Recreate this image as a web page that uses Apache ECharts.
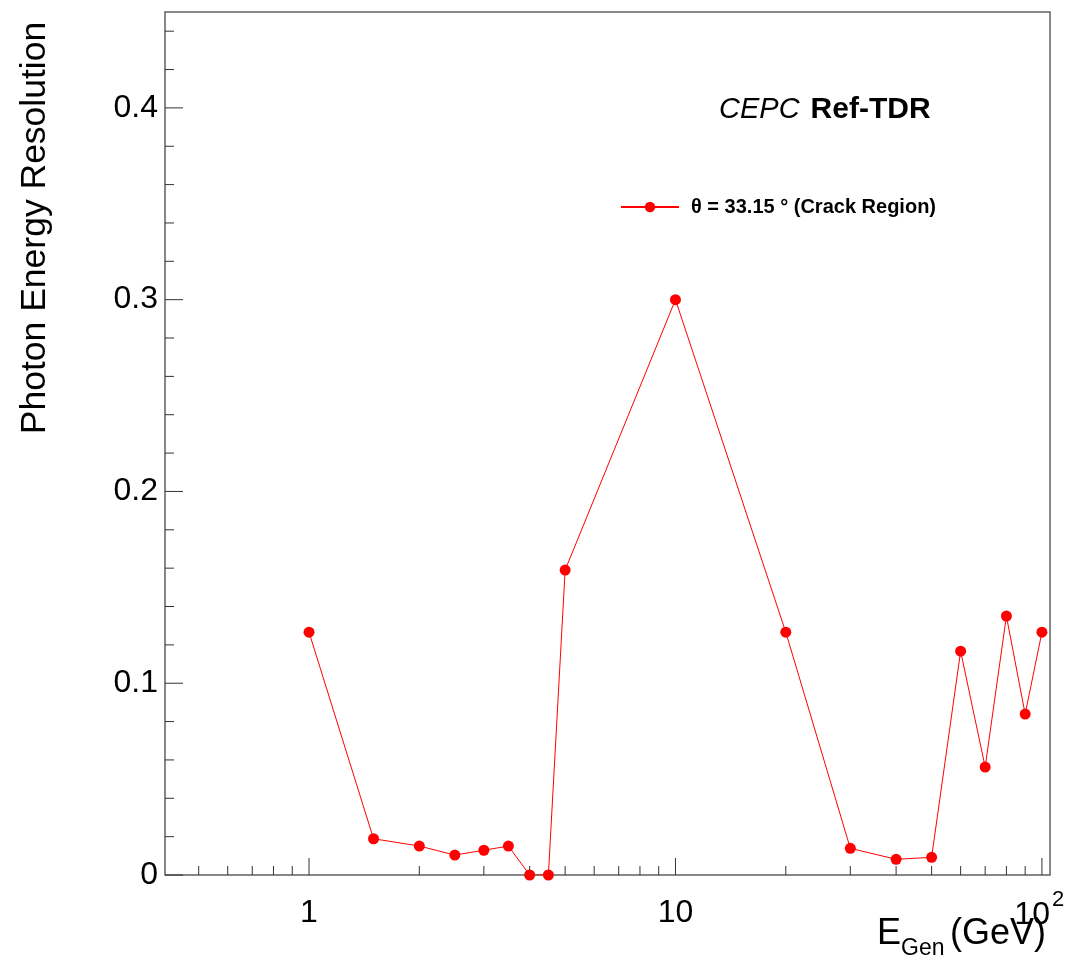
<!DOCTYPE html>
<html><head><meta charset="utf-8">
<script src="https://cdn.jsdelivr.net/npm/echarts@6/dist/echarts.min.js"></script>
<style>html,body{margin:0;padding:0;background:#fff}#chart{width:1074px;height:961px}</style>
</head><body><div id="chart"></div>
<script>
// ---- data ----
const energies   = [1, 1.5, 2, 2.5, 3, 3.5, 4, 4.5, 5, 10, 20, 30, 40, 50, 60, 70, 80, 90, 100];
const resolution = [0.1266, 0.0189, 0.0151, 0.0104, 0.0129, 0.0151, 0.0, 0.0, 0.159, 0.300, 0.1266, 0.0139, 0.0082, 0.0092, 0.1167, 0.0563, 0.135, 0.0839, 0.1266];
const seriesName = 'θ = 33.15 ° (Crack Region)';

// ---- ticks / labels ----
const xMajorTicks = [1, 10, 100];
const xMinorTicks = [0.5, 0.6, 0.7, 0.8, 0.9, 2, 3, 4, 5, 6, 7, 8, 9, 20, 30, 40, 50, 60, 70, 80, 90];
const xLabelValues = [1, 10, 100];
const xLabelBases  = ['1', '10', '10'];
const xLabelExps   = ['', '', '2'];
const yMajorTicks = [0, 0.1, 0.2, 0.3, 0.4];
const yMinorTicks = [0.02, 0.04, 0.06, 0.08, 0.12, 0.14, 0.16, 0.18, 0.22, 0.24, 0.26, 0.28, 0.32, 0.34, 0.36, 0.38, 0.42, 0.44];

const X_MIN = 0.4046, X_MAX = 105.2, Y_MIN = 0, Y_MAX = 0.45;
const FONT = 'Liberation Sans, Arial, Helvetica, sans-serif';
const TICK_COLOR = '#333';

const xTickData = xMajorTicks.map(v => [v, Y_MIN, 1]).concat(xMinorTicks.map(v => [v, Y_MIN, 0]));
const yTickData = yMajorTicks.map(v => [X_MIN, v, 1]).concat(yMinorTicks.map(v => [X_MIN, v, 0]));
const xLabelData = xLabelValues.map((v, i) => [v, Y_MIN, i]);

const chart = echarts.init(document.getElementById('chart'));
chart.setOption({
  animation: false,
  backgroundColor: '#fff',
  textStyle: { fontFamily: FONT },
  grid: { left: 165, right: 24, top: 12, bottom: 86, show: true, borderColor: '#606060', borderWidth: 1.5, outerBoundsMode: 'none', containLabel: false },
  title: {
    left: 719, top: 95, padding: 0,
    text: '{i|CEPC}{b|Ref-TDR}',
    textStyle: { fontWeight: 'normal', rich: {
      i: { fontFamily: FONT, fontStyle: 'italic', fontWeight: 'normal', fontSize: 29, color: '#000' },
      b: { fontFamily: FONT, fontWeight: 'bold', fontSize: 30, color: '#000', padding: [0, 0, 0, 11] }
    } }
  },
  legend: {
    left: 620, top: 197, padding: 0, data: [seriesName],
    itemWidth: 58, itemHeight: 13,
    textStyle: { fontFamily: FONT, fontWeight: 'bold', fontSize: 20, color: '#000', padding: [0, 0, 0, 7] }
  },
  xAxis: {
    type: 'log', logBase: 10, min: X_MIN, max: X_MAX,
    axisLine: { show: false }, axisTick: { show: false }, axisLabel: { show: false },
    splitLine: { show: false }, minorTick: { show: false }, minorSplitLine: { show: false }
  },
  yAxis: {
    type: 'value', min: Y_MIN, max: Y_MAX, interval: 0.1,
    axisLine: { show: false }, axisTick: { show: false }, splitLine: { show: false },
    axisLabel: { fontFamily: FONT, fontSize: 32, color: '#000', margin: 7, showMaxLabel: false }
  },
  graphic: [
    { type: 'text', x: 35, y: 228, rotation: Math.PI / 2,
      style: { text: 'Photon Energy Resolution', fontFamily: FONT, fontSize: 35.5, fill: '#000', align: 'center', verticalAlign: 'middle' } },
    { type: 'text', x: 877, y: 934, style: { text: 'E', fontFamily: FONT, fontSize: 36, fill: '#000', align: 'left', verticalAlign: 'middle' } },
    { type: 'text', x: 901, y: 949, style: { text: 'Gen', fontFamily: FONT, fontSize: 23, fill: '#000', align: 'left', verticalAlign: 'middle' } },
    { type: 'text', x: 950, y: 934, style: { text: '(GeV)', fontFamily: FONT, fontSize: 36, fill: '#000', align: 'left', verticalAlign: 'middle' } }
  ],
  series: [
    {
      name: seriesName, type: 'line',
      data: energies.map((e, i) => [e, resolution[i]]),
      symbol: 'circle', symbolSize: 11, showSymbol: true,
      lineStyle: { color: '#ff0000', width: 1 },
      itemStyle: { color: '#ff0000' },
      z: 5
    },
    {
      type: 'custom', silent: true, clip: false, data: xTickData, z: 3,
      renderItem: (params, api) => {
        const p = api.coord([api.value(0), api.value(1)]);
        const len = api.value(2) ? 17 : 9;
        return { type: 'line', shape: { x1: p[0], y1: p[1], x2: p[0], y2: p[1] - len }, style: { stroke: TICK_COLOR, lineWidth: 1 } };
      }
    },
    {
      type: 'custom', silent: true, clip: false, data: yTickData, z: 3,
      renderItem: (params, api) => {
        const p = api.coord([api.value(0), api.value(1)]);
        const len = api.value(2) ? 18 : 9;
        return { type: 'line', shape: { x1: p[0], y1: p[1], x2: p[0] + len, y2: p[1] }, style: { stroke: TICK_COLOR, lineWidth: 1 } };
      }
    },
    {
      type: 'custom', silent: true, clip: false, data: xLabelData, z: 3,
      renderItem: (params, api) => {
        const p = api.coord([api.value(0), api.value(1)]);
        const i = api.value(2);
        const exp = xLabelExps[i];
        const children = [];
        if (exp) {
          children.push({ type: 'text', x: p[0] + 8, y: p[1] + 40, style: { text: xLabelBases[i], fontFamily: FONT, fontSize: 32, fill: '#000', align: 'right', verticalAlign: 'middle' } });
          children.push({ type: 'text', x: p[0] + 10, y: p[1] + 25, style: { text: exp, fontFamily: FONT, fontSize: 22, fill: '#000', align: 'left', verticalAlign: 'middle' } });
        } else {
          children.push({ type: 'text', x: p[0], y: p[1] + 38, style: { text: xLabelBases[i], fontFamily: FONT, fontSize: 32, fill: '#000', align: 'center', verticalAlign: 'middle' } });
        }
        return { type: 'group', children };
      }
    }
  ]
});
</script></body></html>
